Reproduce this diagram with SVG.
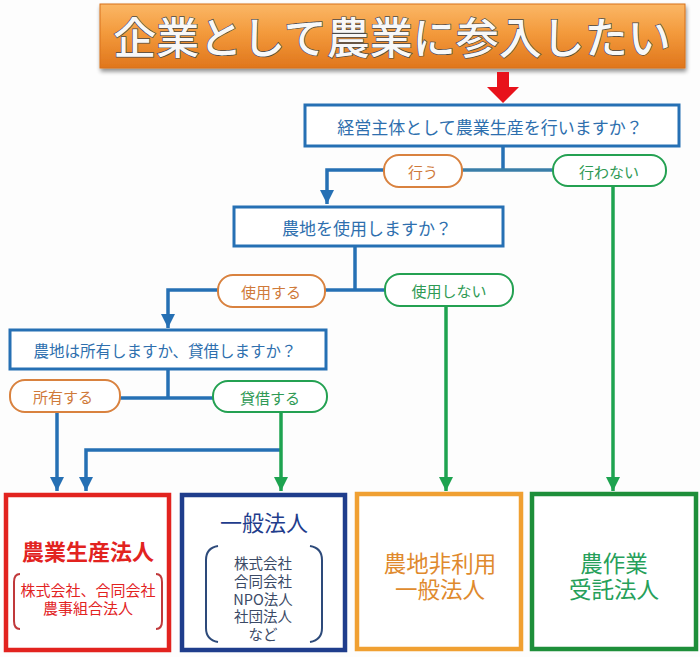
<svg xmlns="http://www.w3.org/2000/svg" width="700" height="657" viewBox="0 0 700 657">
<defs>
  <linearGradient id="og" x1="0" y1="0" x2="0" y2="1">
    <stop offset="0" stop-color="#fbb766"/>
    <stop offset="0.45" stop-color="#f39a3c"/>
    <stop offset="1" stop-color="#e0761c"/>
  </linearGradient>
  <filter id="sh" x="-5%" y="-20%" width="110%" height="150%">
    <feGaussianBlur in="SourceAlpha" stdDeviation="2"/>
    <feOffset dx="1" dy="3"/>
    <feComponentTransfer><feFuncA type="linear" slope="0.45"/></feComponentTransfer>
    <feMerge><feMergeNode/><feMergeNode in="SourceGraphic"/></feMerge>
  </filter>
  <marker id="ab" viewBox="0 0 10 10" refX="10" refY="5" markerWidth="4" markerHeight="4" orient="auto" markerUnits="strokeWidth">
    <path d="M0,0 L10,5 L0,10 z" fill="#2670b4"/>
  </marker>
  <marker id="ag" viewBox="0 0 10 10" refX="10" refY="5" markerWidth="4" markerHeight="4" orient="auto" markerUnits="strokeWidth">
    <path d="M0,0 L10,5 L0,10 z" fill="#1ea350"/>
  </marker>
</defs>
<style>
  text { font-family: "Noto Sans CJK JP", "Noto Sans", sans-serif; text-anchor: middle; dominant-baseline: central; }
  .q { fill: #fff; stroke: #2670b4; stroke-width: 3; }
  .qt { fill: #2e6fae; font-size: 17px; }
  .po { fill: #fff; stroke: #d9823f; stroke-width: 2; }
  .pg { fill: #fff; stroke: #24a152; stroke-width: 2; }
  .pot { fill: #cf7a3a; font-size: 15px; }
  .pgt { fill: #2f9a55; font-size: 15px; }
  .lb { fill: none; stroke: #2670b4; stroke-width: 3.5; }
  .lg { fill: none; stroke: #1ea350; stroke-width: 3.5; }
  .res { fill: #fff; stroke-width: 4.5; }
  .ip { font-size: 14.5px; fill: #3b4a66; }
</style>
<rect width="700" height="657" fill="#fdfdfd"/>

<g id="title">
  <rect x="100" y="4" width="585" height="64" fill="url(#og)" stroke="#d7701c" stroke-width="1" filter="url(#sh)"/>
  <text x="392" y="35" font-size="43" font-weight="500" fill="#f8f8f8" stroke="#4a4a4a" stroke-width="1.4" paint-order="stroke">企業として農業に参入したい</text>
</g>

<g id="start-arrow">
  <path d="M497,72 L509,72 L509,87 L519,87 L503,103 L487,87 L497,87 z" fill="#e8121b"/>
</g>

<g id="connectors">
  <path class="lb" d="M503,146 V170"/>
  <path class="lb" d="M384,170 H327 V204" marker-end="url(#ab)"/>
  <path d="M462,170 H553" fill="none" stroke="#3a7ea8" stroke-width="3.5"/>
  <path class="lg" d="M613,186 V491" marker-end="url(#ag)"/>
  <path class="lb" d="M355,246 V290"/>
  <path class="lb" d="M325,290 H385"/>
  <path class="lb" d="M218,290 H168 V328" marker-end="url(#ab)"/>
  <path class="lg" d="M446,306 V491" marker-end="url(#ag)"/>
  <path class="lb" d="M168,369 V398"/>
  <path class="lb" d="M120,398 H213"/>
  <path class="lb" d="M57,412 V491" marker-end="url(#ab)"/>
  <path class="lb" d="M281,450 H86 V491" marker-end="url(#ab)"/>
  <path class="lg" d="M281,412 V491" marker-end="url(#ag)"/>
</g>

<g id="q1">
  <rect class="q" x="305" y="105" width="374" height="41"/>
  <text class="qt" x="490" y="126">経営主体として農業生産を行いますか？</text>
</g>
<g id="p-okonau">
  <rect class="po" x="384" y="155" width="78" height="32" rx="15"/>
  <text class="pot" x="423" y="171">行う</text>
</g>
<g id="p-okonawanai">
  <rect class="pg" x="553" y="155" width="113" height="31" rx="15"/>
  <text class="pgt" x="609" y="171">行わない</text>
</g>

<g id="q2">
  <rect class="q" x="234" y="207" width="269" height="39"/>
  <text class="qt" x="367" y="227">農地を使用しますか？</text>
</g>
<g id="p-shiyousuru">
  <rect class="po" x="218" y="275" width="107" height="32" rx="15"/>
  <text class="pot" x="271" y="291">使用する</text>
</g>
<g id="p-shiyoushinai">
  <rect class="pg" x="385" y="274" width="128" height="32" rx="15"/>
  <text class="pgt" x="449" y="290">使用しない</text>
</g>

<g id="q3">
  <rect class="q" x="10" y="330" width="316" height="39"/>
  <text class="qt" x="165" y="350" style="font-size:15.5px">農地は所有しますか、貸借しますか？</text>
</g>
<g id="p-shoyuu">
  <rect class="po" x="10" y="380" width="110" height="32" rx="15"/>
  <text class="pot" x="63" y="396">所有する</text>
</g>
<g id="p-taishaku">
  <rect class="pg" x="213" y="381" width="114" height="31" rx="15"/>
  <text class="pgt" x="270" y="397">貸借する</text>
</g>

<g id="r-nougyouseisan">
  <rect class="res" x="6" y="495" width="163" height="155" stroke="#e2231f"/>
  <text x="88" y="550" font-size="22" font-weight="bold" fill="#e2231f">農業生産法人</text>
  <path d="M20,574 Q14,574 14,582 V621 Q14,629 20,629 M156,574 Q162,574 162,582 V621 Q162,629 156,629" fill="none" stroke="#c0393b" stroke-width="2"/>
  <text x="88" y="589" font-size="15" fill="#e2231f">株式会社、合同会社<tspan x="88" dy="18">農事組合法人</tspan></text>
</g>

<g id="r-ippan">
  <rect class="res" x="182" y="495" width="163" height="155" stroke="#1f3d8c"/>
  <text x="264" y="521" font-size="22" fill="#1f3d8c">一般法人</text>
  <path d="M218,546 Q206,548 206,560 V628 Q206,640 218,642 M310,546 Q322,548 322,560 V628 Q322,640 310,642" fill="none" stroke="#2d4a7a" stroke-width="2"/>
  <text class="ip" x="263" y="562">株式会社<tspan x="263" dy="17.8">合同会社</tspan><tspan x="263" dy="17.8">NPO法人</tspan><tspan x="263" dy="17.8">社団法人</tspan><tspan x="263" dy="17.8">など</tspan></text>
</g>

<g id="r-nouchihiriyou">
  <rect class="res" x="357" y="494" width="164" height="155" stroke="#f0a032"/>
  <text x="440" y="562" font-size="22.5" fill="#df8a2e">農地非利用<tspan x="440" dy="26">一般法人</tspan></text>
</g>

<g id="r-nousagyou">
  <rect class="res" x="532" y="494" width="164" height="155" stroke="#1e8f3a"/>
  <text x="614" y="562" font-size="22.5" fill="#26a05a">農作業<tspan x="614" dy="26">受託法人</tspan></text>
</g>
</svg>
